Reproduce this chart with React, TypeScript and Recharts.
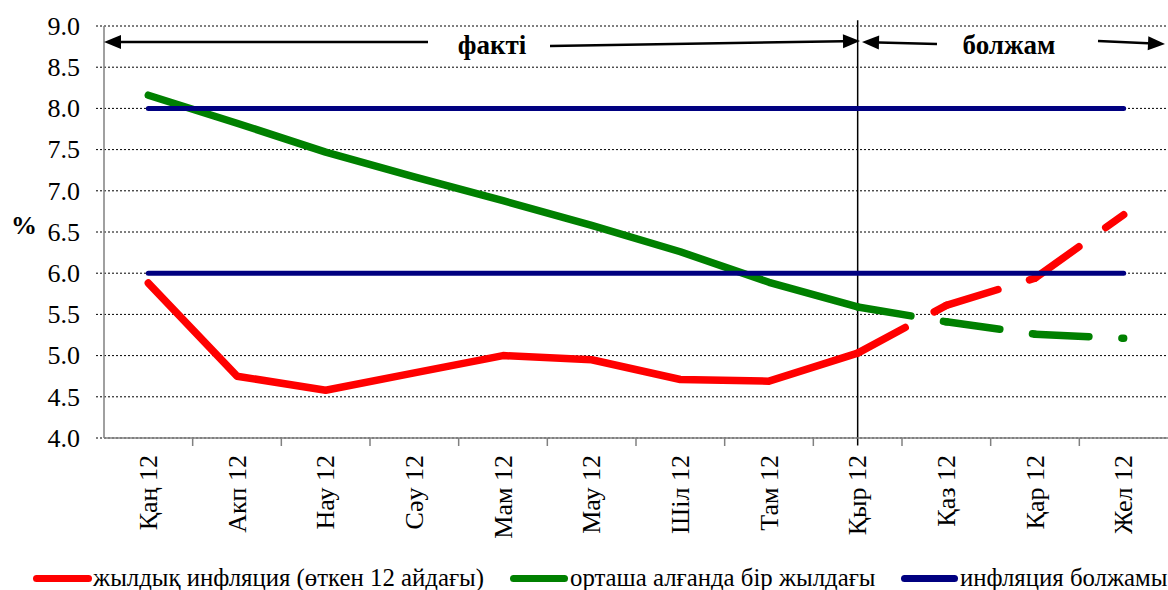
import { LineChart, Line, XAxis, YAxis, CartesianGrid, ReferenceLine, Legend } from 'recharts';

const months = ['Қаң 12', 'Акп 12', 'Нау 12', 'Сәу 12', 'Мам 12', 'Мау 12', 'Шіл 12', 'Там 12', 'Қыр 12', 'Қаз 12', 'Қар 12', 'Жел 12'];
const annualInflation = [5.88, 4.75, 4.58, 4.79, 5.0, 4.95, 4.71, 4.69, 5.03, 5.61, 5.94, 6.71];
const averageInflation = [8.16, 7.82, 7.47, 7.17, 6.88, 6.58, 6.26, 5.89, 5.59, 5.41, 5.26, 5.21];
const targetLow = [6, 6, 6, 6, 6, 6, 6, 6, 6, 6, 6, 6];
const targetHigh = [8, 8, 8, 8, 8, 8, 8, 8, 8, 8, 8, 8];
const yTicks = [4, 4.5, 5, 5.5, 6, 6.5, 7, 7.5, 8, 8.5, 9];
const lastFactIndex = 8;
const legendLabels = ['жылдық инфляция (өткен 12 айдағы)', 'орташа алғанда бір жылдағы', 'инфляция болжамы'];

const RED = '#ff0000';
const GREEN = '#008000';
const NAVY = '#000080';
const FONT = 'Liberation Serif';
const BAND = (1168 - 104) / 12;
const segCount = months.length - 1 - lastFactIndex;

const data = months.map((month, i) => {
  const row: Record<string, any> = {
    month,
    annualFact: i <= lastFactIndex ? annualInflation[i] : null,
    avgFact: i <= lastFactIndex ? averageInflation[i] : null,
    low: targetLow[i],
    high: targetHigh[i],
  };
  // forecast drawn segment by segment so the dash pattern restarts at each month
  for (let k = 0; k < segCount; k++) {
    const inSeg = i === lastFactIndex + k || i === lastFactIndex + k + 1;
    row[`annualF${k}`] = inSeg ? annualInflation[i] : null;
    row[`avgF${k}`] = inSeg ? averageInflation[i] : null;
  }
  return row;
});

const MonthTick = (props: any) => {
  const { x, y, payload, index } = props;
  return (
    <g>
      {index < months.length - 1 && (
        <line x1={x + BAND / 2} x2={x + BAND / 2} y1={y - 17} y2={y - 9} stroke="#808080" strokeWidth={1.5} />
      )}
      <text
        x={x}
        y={y}
        transform={`rotate(-90 ${x} ${y})`}
        textAnchor="end"
        dy="0.34em"
        style={{ fontFamily: FONT, fontSize: 26 }}
        fill="#000"
      >
        {payload.value}
      </text>
    </g>
  );
};

const YTick = (props: any) => {
  const { x, y, payload } = props;
  return (
    <text x={x} y={y} textAnchor="end" dy="0.34em" style={{ fontFamily: FONT, fontSize: 26 }} fill="#000">
      {Number(payload.value).toFixed(1)}
    </text>
  );
};

const LegendContent = () => {
  const items = [
    { color: RED, label: legendLabels[0], lx: 33, lw: 59, tx: 93 },
    { color: GREEN, label: legendLabels[1], lx: 510, lw: 58, tx: 570 },
    { color: NAVY, label: legendLabels[2], lx: 901, lw: 57, tx: 960 },
  ];
  return (
    <div style={{ position: 'relative', width: 1168, height: 52, fontFamily: FONT, fontSize: 24.8, color: '#000' }}>
      {items.map((it) => (
        <div key={it.label}>
          <div style={{ position: 'absolute', left: it.lx, top: 37, width: it.lw, height: 7, borderRadius: 4, background: it.color }} />
          <div style={{ position: 'absolute', left: it.tx, top: 26, whiteSpace: 'nowrap', lineHeight: '28px', fontFamily: FONT }}>{it.label}</div>
        </div>
      ))}
    </div>
  );
};

const Arrow = ({ x1, y1, x2, y2 }: { x1: number; y1: number; x2: number; y2: number }) => {
  const ang = Math.atan2(y2 - y1, x2 - x1);
  const len = 17;
  const w = 7;
  const bx = x2 - len * Math.cos(ang);
  const by = y2 - len * Math.sin(ang);
  const px = -Math.sin(ang) * w;
  const py = Math.cos(ang) * w;
  return (
    <g>
      <line x1={x1} y1={y1} x2={bx} y2={by} stroke="#000" strokeWidth={2.5} />
      <polygon points={`${x2},${y2} ${bx + px},${by + py} ${bx - px},${by - py}`} fill="#000" />
    </g>
  );
};

export default function App() {
  return (
    <div style={{ position: 'absolute', left: 0, top: 0, width: 1168, height: 590, background: '#fff', fontFamily: FONT }}>
      <LineChart width={1168} height={590} data={data} margin={{ top: 26, right: 0, bottom: 0, left: 0 }} style={{ fontFamily: FONT }}>
        <CartesianGrid vertical={false} stroke="#000" strokeWidth={1} strokeDasharray="2 2" />
        <XAxis
          dataKey="month"
          height={100}
          padding={{ left: BAND / 2, right: BAND / 2 }}
          interval={0}
          tickSize={8}
          tickMargin={9}
          tickLine={false}
          axisLine={{ stroke: '#808080', strokeWidth: 1.5 }}
          tick={<MonthTick />}
        />
        <YAxis
          width={104}
          domain={[4, 9]}
          ticks={yTicks}
          interval={0}
          tickSize={8}
          tickMargin={16}
          tickLine={{ stroke: '#000', strokeDasharray: '2 2' }}
          axisLine={{ stroke: '#808080', strokeWidth: 1.5 }}
          tick={<YTick />}
          label={{ value: '%', position: 'insideLeft', offset: 11, dy: -7, style: { fill: '#000', fontFamily: FONT, fontSize: 26, fontWeight: 'bold' } }}
        />
        <ReferenceLine
          segment={[{ x: months[lastFactIndex], y: 9.07 }, { x: months[lastFactIndex], y: 3.91 }]}
          ifOverflow="visible"
          stroke="#000"
          strokeWidth={1.5}
        />
        <Legend verticalAlign="bottom" height={52} wrapperStyle={{ left: 0, bottom: 0, width: 1168, height: 52 }} content={<LegendContent />} />
        <Line dataKey="annualFact" stroke={RED} strokeWidth={7.5} strokeLinecap="round" strokeLinejoin="round" dot={false} isAnimationActive={false} />
        {Array.from({ length: segCount }, (_, k) => (
          <Line key={`a${k}`} dataKey={`annualF${k}`} stroke={RED} strokeWidth={7.5} strokeLinecap="round" strokeDasharray="54 33" dot={false} isAnimationActive={false} legendType="none" />
        ))}
        <Line dataKey="avgFact" stroke={GREEN} strokeWidth={7.5} strokeLinecap="round" strokeLinejoin="round" dot={false} isAnimationActive={false} />
        {Array.from({ length: segCount }, (_, k) => (
          <Line key={`g${k}`} dataKey={`avgF${k}`} stroke={GREEN} strokeWidth={7.5} strokeLinecap="round" strokeDasharray="54 33" dot={false} isAnimationActive={false} legendType="none" />
        ))}
        <Line dataKey="high" stroke={NAVY} strokeWidth={5} strokeLinecap="round" dot={false} isAnimationActive={false} />
        <Line dataKey="low" stroke={NAVY} strokeWidth={5} strokeLinecap="round" dot={false} isAnimationActive={false} />
      </LineChart>
      <svg width={1168} height={590} style={{ position: 'absolute', left: 0, top: 0, pointerEvents: 'none', fontFamily: FONT }}>
        <Arrow x1={428} y1={42} x2={104} y2={42} />
        <text x={492} y={54} textAnchor="middle" style={{ fontFamily: FONT, fontSize: 27, fontWeight: 'bold' }}>факті</text>
        <Arrow x1={550} y1={46} x2={860} y2={41} />
        <Arrow x1={937} y1={44} x2={862} y2={42} />
        <text x={1009} y={54} textAnchor="middle" style={{ fontFamily: FONT, fontSize: 27, fontWeight: 'bold' }}>болжам</text>
        <Arrow x1={1098} y1={41} x2={1165} y2={44} />
      </svg>
    </div>
  );
}
